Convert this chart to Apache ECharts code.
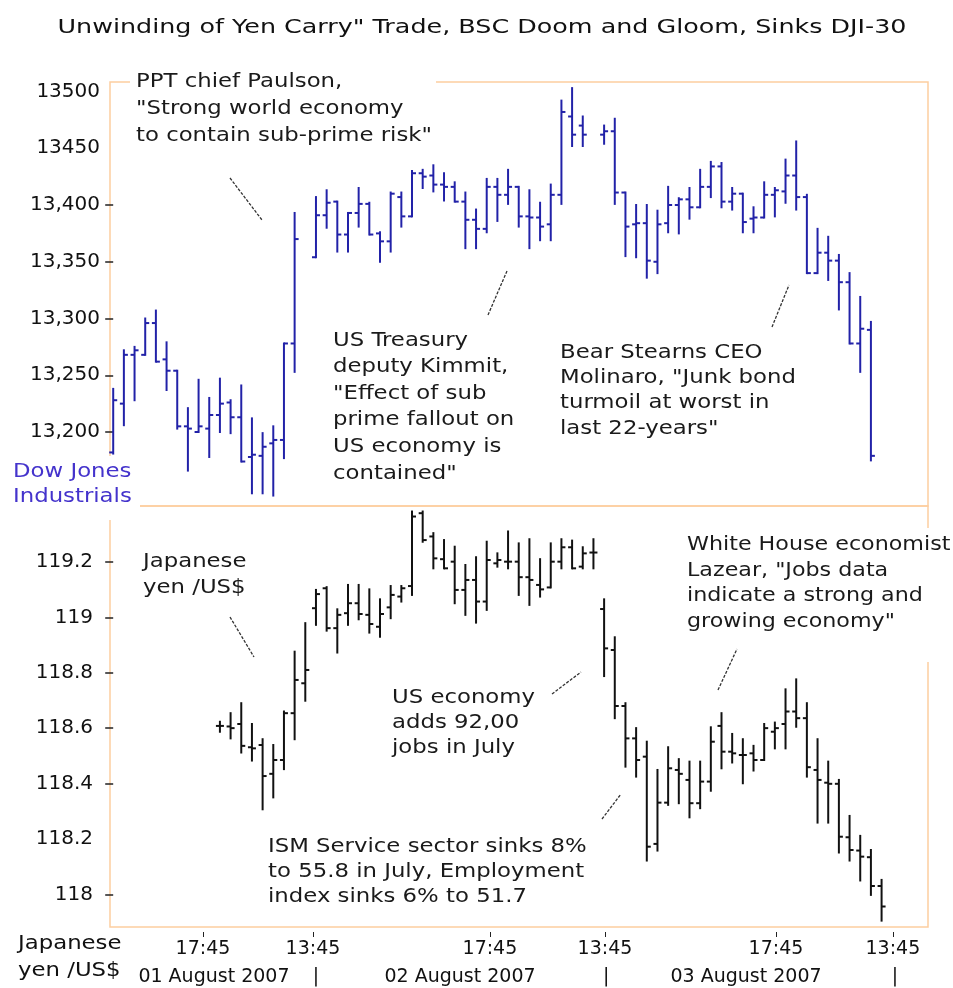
<!DOCTYPE html>
<html>
<head>
<meta charset="utf-8">
<title>Unwinding of Yen Carry Trade</title>
<script src="https://cdn.jsdelivr.net/npm/echarts@6/dist/echarts.min.js"></script>
<style>
    html, body { margin: 0; padding: 0; background: #fff; }
    #chart { width: 953px; height: 988px; }
</style>
</head>
<body>
<div id="chart"></div>
<script>
// DJI-30 bars, one slot per bar, null = no bar in that slot
var djiOpen = [13182, 13225, 13268, 13268, 13296, 13264, 13254, 13205, 13200, 13203, 13215, 13226, 13213, 13178, 13179, 13190, 13193, 13278, null,
    13354, 13391, 13403, 13374, 13393, 13401, 13375, 13368, 13407, 13390, 13428, 13426, 13418, 13416, 13403, 13387, 13379, 13416, 13409, 13416, 13390, 13389, 13383, 13409, 13478, 13470, null,
    13462, 13465, 13411, 13383, 13384, 13350, 13384, 13400, 13405, 13398, 13416, 13434, 13403, 13410, 13388, 13389, 13409, 13412, 13426, 13407, 13340, 13358, 13351, 13332, 13278, 13290];
var djiHigh = [13238, 13272, 13275, 13300, 13307, 13279, 13254, 13221, 13246, 13230, 13247, 13228, 13241, 13212, 13199, 13205, 13278, 13393, null,
    13407, 13413, 13403, 13393, 13415, 13402, 13376, 13411, 13411, 13430, 13431, 13435, 13428, 13420, 13411, 13396, 13423, 13423, 13431, 13416, 13413, 13402, 13418, 13492, 13503, 13478, null,
    13470, 13476, 13411, 13400, 13400, 13395, 13416, 13406, 13415, 13431, 13438, 13437, 13415, 13410, 13398, 13420, 13415, 13440, 13456, 13409, 13379, 13372, 13356, 13340, 13319, 13297];
var djiLow = [13181, 13206, 13228, 13268, 13262, 13237, 13203, 13166, 13200, 13178, 13200, 13199, 13174, 13146, 13146, 13144, 13177, 13253, null,
    13354, 13380, 13359, 13359, 13381, 13374, 13350, 13359, 13381, 13390, 13415, 13412, 13404, 13403, 13362, 13362, 13376, 13386, 13401, 13381, 13362, 13369, 13369, 13401, 13452, 13452, null,
    13454, 13401, 13355, 13354, 13336, 13340, 13376, 13375, 13388, 13398, 13407, 13398, 13396, 13376, 13376, 13389, 13390, 13402, 13396, 13340, 13340, 13334, 13308, 13278, 13253, 13175];
var djiClose = [13228, 13268, 13272, 13296, 13262, 13254, 13205, 13203, 13205, 13215, 13225, 13213, 13174, 13180, 13187, 13193, 13278, 13370, null,
    13391, 13402, 13374, 13393, 13401, 13374, 13368, 13410, 13390, 13428, 13425, 13418, 13416, 13403, 13387, 13379, 13416, 13409, 13416, 13390, 13389, 13381, 13409, 13482, 13462, 13462, null,
    13465, 13411, 13381, 13384, 13351, 13383, 13400, 13405, 13398, 13416, 13434, 13403, 13410, 13385, 13389, 13409, 13413, 13426, 13407, 13340, 13358, 13351, 13332, 13278, 13291, 13179];

// Japanese yen / US$ bars, same slots (yen starts later)
var yenOpen = [null, null, null, null, null, null, null, null, null, null,
    118.608, 118.606, 118.615, 118.531, 118.539, 118.435, 118.485, 118.654, 118.762, 119.033, 119.105, 118.961, 119.015, 119.051, 119.009, 118.966, 119.036, 119.075,
    119.113, 119.376, 119.292, 119.210, 119.201, 119.099, 119.135, 119.057, 119.195, 119.201, 119.201, 119.145, 119.117, 119.108, 119.201, 119.253, 119.183, 119.234,
    119.030, 118.882, 118.680, 118.563, 118.497, 118.182, 118.331, 118.449, 118.413, 118.329, 118.407, 118.608, 118.515, 118.503, 118.509, 118.485, 118.587, 118.615,
    118.660, 118.636, 118.449, 118.403, 118.399, 118.206, 118.158, 118.134, 118.030];
var yenHigh = [null, null, null, null, null, null, null, null, null, null,
    118.623, 118.654, 118.690, 118.615, 118.560, 118.539, 118.660, 118.876, 118.979, 119.099, 119.109, 119.029, 119.117, 119.117, 119.101, 119.065, 119.113, 119.113,
    119.382, 119.382, 119.304, 119.279, 119.255, 119.189, 119.217, 119.273, 119.231, 119.310, 119.267, 119.282, 119.210, 119.267, 119.282, 119.277, 119.253, 119.282,
    119.065, 118.928, 118.690, 118.600, 118.551, 118.449, 118.531, 118.488, 118.479, 118.479, 118.603, 118.654, 118.579, 118.560, 118.536, 118.615, 118.620, 118.740,
    118.776, 118.690, 118.560, 118.479, 118.413, 118.283, 118.211, 118.160, 118.052];
var yenLow = [null, null, null, null, null, null, null, null, null, null,
    118.587, 118.563, 118.512, 118.483, 118.307, 118.350, 118.452, 118.560, 118.699, 118.973, 118.952, 118.873, 118.973, 118.993, 118.945, 118.930, 118.997, 119.057,
    119.081, 119.273, 119.177, 119.177, 119.051, 119.009, 118.981, 119.027, 119.183, 119.177, 119.081, 119.045, 119.075, 119.108, 119.177, 119.177, 119.177, 119.177,
    118.788, 118.636, 118.461, 118.425, 118.122, 118.158, 118.323, 118.329, 118.278, 118.311, 118.374, 118.455, 118.476, 118.401, 118.447, 118.485, 118.527, 118.527,
    118.605, 118.425, 118.259, 118.259, 118.151, 118.122, 118.050, 117.998, 117.905];
var yenClose = [null, null, null, null, null, null, null, null, null, null,
    118.608, 118.600, 118.536, 118.527, 118.427, 118.485, 118.654, 118.774, 118.810, 119.084, 118.961, 119.009, 119.051, 119.012, 118.976, 119.012, 119.081, 119.105,
    119.364, 119.279, 119.213, 119.177, 119.099, 119.135, 119.057, 119.207, 119.207, 119.201, 119.145, 119.135, 119.101, 119.201, 119.253, 119.177, 119.231, 119.234,
    118.888, 118.680, 118.563, 118.485, 118.172, 118.331, 118.455, 118.435, 118.329, 118.407, 118.551, 118.515, 118.509, 118.503, 118.485, 118.600, 118.600, 118.660,
    118.636, 118.459, 118.413, 118.399, 118.208, 118.160, 118.136, 118.030, 117.956];

// y axis ticks and labels
var djiLabelValues = [13200, 13250, 13300, 13350, 13400, 13450, 13500];
var djiLabelTexts = ['13,200', '13,250', '13,300', '13,350', '13,400', '13450', '13500'];
var djiTickValues = [13200, 13250, 13300, 13350, 13400];
var yenLabelValues = [118, 118.2, 118.4, 118.6, 118.8, 119, 119.2];
var yenLabelTexts = ['118', '118.2', '118.4', '118.6', '118.8', '119', '119.2'];
var yenTickValues = [118, 118.4, 118.6, 118.8, 119, 119.2];

// time axis (slot positions) and the date row under it
var timeTickPos = [8.41, 18.72, 35.3, 46.08, 62.1, 73.06];
var timeTickTexts = ['17:45', '13:45', '17:45', '13:45', '17:45', '13:45'];
var dateRowPos = [9.44, 19.0, 32.5, 46.2, 59.3, 73.25];
var dateRowTexts = ['01 August 2007', '|', '02 August 2007', '|', '03 August 2007', '|'];

var FONT = '"DejaVu Sans", Verdana, sans-serif';
var BORDER = '#fdcea0';

function buildBars(open, high, low, close) {
    var list = [];
    for (var i = 0; i < open.length; i++) {
        if (open[i] == null) {
            continue;
        }
        list.push([i, open[i], high[i], low[i], close[i]]);
    }
    return list;
}

function pickLabel(values, texts) {
    return function (v) {
        for (var i = 0; i < values.length; i++) {
            if (Math.abs(values[i] - v) < 1e-6) {
                return texts[i];
            }
        }
        return '';
    };
}

// OHLC bar: high-low stem, open tick left, close tick right
function ohlcRenderer(color) {
    return function (params, api) {
        var x = api.value(0);
        var o = api.coord([x, api.value(1)]);
        var h = api.coord([x, api.value(2)]);
        var l = api.coord([x, api.value(3)]);
        var c = api.coord([x, api.value(4)]);
        var style = { stroke: color, lineWidth: 2 };
        return {
            type: 'group',
            children: [
                { type: 'line', shape: { x1: h[0], y1: h[1] - 1, x2: l[0], y2: l[1] + 1 }, style: style },
                { type: 'line', shape: { x1: o[0] - 4, y1: o[1], x2: o[0], y2: o[1] }, style: style },
                { type: 'line', shape: { x1: c[0], y1: c[1], x2: c[0] + 4, y2: c[1] }, style: style }
            ]
        };
    };
}

function note(text, x, y, lineHeight, color, scale) {
    return {
        type: 'text', x: x, y: y, scaleX: scale || 1.14, z: 60,
        style: {
            text: text, x: 0, y: 0, font: '20px ' + FONT, fill: color || '#1a1a1a',
            lineHeight: lineHeight, align: 'left', textAlign: 'left',
            verticalAlign: 'top', textVerticalAlign: 'top'
        }
    };
}

function pointer(x1, y1, x2, y2) {
    return {
        type: 'line', z: 60,
        shape: { x1: x1, y1: y1, x2: x2, y2: y2 },
        style: { stroke: '#333', lineWidth: 1.3, lineDash: [3, 1.5] }
    };
}

function cover(x, y, w, h) {
    return { type: 'rect', z: 50, shape: { x: x, y: y, width: w, height: h }, style: { fill: '#fff' } };
}

var chart = echarts.init(document.getElementById('chart'), null, { renderer: 'canvas' });

var slotMin = -0.3;
var slotMax = 76.35;

var option = {
    animation: false,
    backgroundColor: '#fff',
    grid: [
        { left: 110, right: 25, top: 82, height: 424, show: true, borderColor: BORDER, borderWidth: 1.5, backgroundColor: 'transparent' },
        { left: 110, right: 25, top: 506, height: 421, show: true, borderColor: BORDER, borderWidth: 1.5, backgroundColor: 'transparent' }
    ],
    xAxis: [
        { type: 'value', gridIndex: 0, min: slotMin, max: slotMax, show: false },
        {
            type: 'value', gridIndex: 1, min: slotMin, max: slotMax, position: 'bottom', offset: 5,
            axisLine: { show: false },
            splitLine: { show: false },
            axisTick: { show: true, customValues: timeTickPos, length: 5, lineStyle: { color: '#222', width: 1 } },
            axisLabel: {
                customValues: timeTickPos, margin: 8, color: '#111', fontSize: 19, fontFamily: FONT,
                formatter: pickLabel(timeTickPos, timeTickTexts)
            }
        },
        {
            type: 'value', gridIndex: 1, min: slotMin, max: slotMax, position: 'bottom', offset: 32,
            axisLine: { show: false },
            splitLine: { show: false },
            axisTick: { show: false },
            axisLabel: {
                customValues: dateRowPos, margin: 9, color: '#111', fontSize: 19, fontFamily: FONT,
                formatter: pickLabel(dateRowPos, dateRowTexts)
            }
        }
    ],
    yAxis: [
        {
            type: 'value', gridIndex: 0, min: 13134.8, max: 13508.4,
            axisLine: { show: false },
            splitLine: { show: false },
            axisTick: { show: true, customValues: djiTickValues, length: 8, lineStyle: { color: '#222', width: 1.5 } },
            axisLabel: {
                customValues: djiLabelValues, margin: 10, color: '#111', fontSize: 20, fontFamily: FONT,
                formatter: pickLabel(djiLabelValues, djiLabelTexts)
            }
        },
        {
            type: 'value', gridIndex: 1, min: 117.882, max: 119.402,
            axisLine: { show: false },
            splitLine: { show: false },
            axisTick: { show: true, customValues: yenTickValues, length: 8, lineStyle: { color: '#222', width: 1.5 } },
            axisLabel: {
                customValues: yenLabelValues, margin: 17, color: '#111', fontSize: 20, fontFamily: FONT,
                formatter: pickLabel(yenLabelValues, yenLabelTexts)
            }
        }
    ],
    series: [
        {
            name: 'Dow Jones Industrials', type: 'custom', xAxisIndex: 0, yAxisIndex: 0,
            renderItem: ohlcRenderer('#2222a8'),
            encode: { x: 0, y: [1, 2, 3, 4] },
            data: buildBars(djiOpen, djiHigh, djiLow, djiClose)
        },
        {
            name: 'Japanese yen /US$', type: 'custom', xAxisIndex: 1, yAxisIndex: 1,
            renderItem: ohlcRenderer('#111'),
            encode: { x: 0, y: [1, 2, 3, 4] },
            data: buildBars(yenOpen, yenHigh, yenLow, yenClose)
        }
    ],
    graphic: [
        {
            type: 'text', x: 482, y: 28, scaleX: 1.27, z: 60,
            style: {
                text: 'Unwinding of Yen Carry" Trade, BSC Doom and Gloom, Sinks DJI-30',
                x: 0, y: 0, font: '20px ' + FONT, fill: '#111',
                align: 'center', textAlign: 'center', verticalAlign: 'middle', textVerticalAlign: 'middle'
            }
        },
        cover(130, 62, 306, 88),
        cover(0, 456, 140, 64),
        cover(680, 528, 273, 134),
        note('PPT chief Paulson,\n"Strong world economy\nto contain sub-prime risk"', 136, 68, 27),
        note('US Treasury\ndeputy Kimmit,\n"Effect of sub\nprime fallout on\nUS economy is\ncontained"', 333, 327, 26.6),
        note('Bear Stearns CEO\nMolinaro, "Junk bond\nturmoil at worst in\nlast 22-years"', 560, 340, 25.3),
        note('Dow Jones\nIndustrials', 13, 459, 25, '#4433cc'),
        note('Japanese\nyen /US$', 143, 549, 26),
        note('US economy\nadds 92,00\njobs in July', 392, 685, 25),
        note('ISM Service sector sinks 8%\nto 55.8 in July, Employment\nindex sinks 6% to 51.7', 268, 834, 25),
        note('White House economist\nLazear, "Jobs data\nindicate a strong and\ngrowing economy"', 687, 532, 25.6, null, 1.11),
        note('Japanese\nyen /US$', 18, 930, 27, '#111'),
        pointer(230, 178, 262, 220),
        pointer(488, 315, 507, 271),
        pointer(772, 327, 789, 285),
        pointer(230, 617, 254, 657),
        pointer(552, 694, 581, 672),
        pointer(602, 819, 621, 794),
        pointer(718, 690, 737, 649)
    ]
};

chart.setOption(option);
</script>
</body>
</html>
